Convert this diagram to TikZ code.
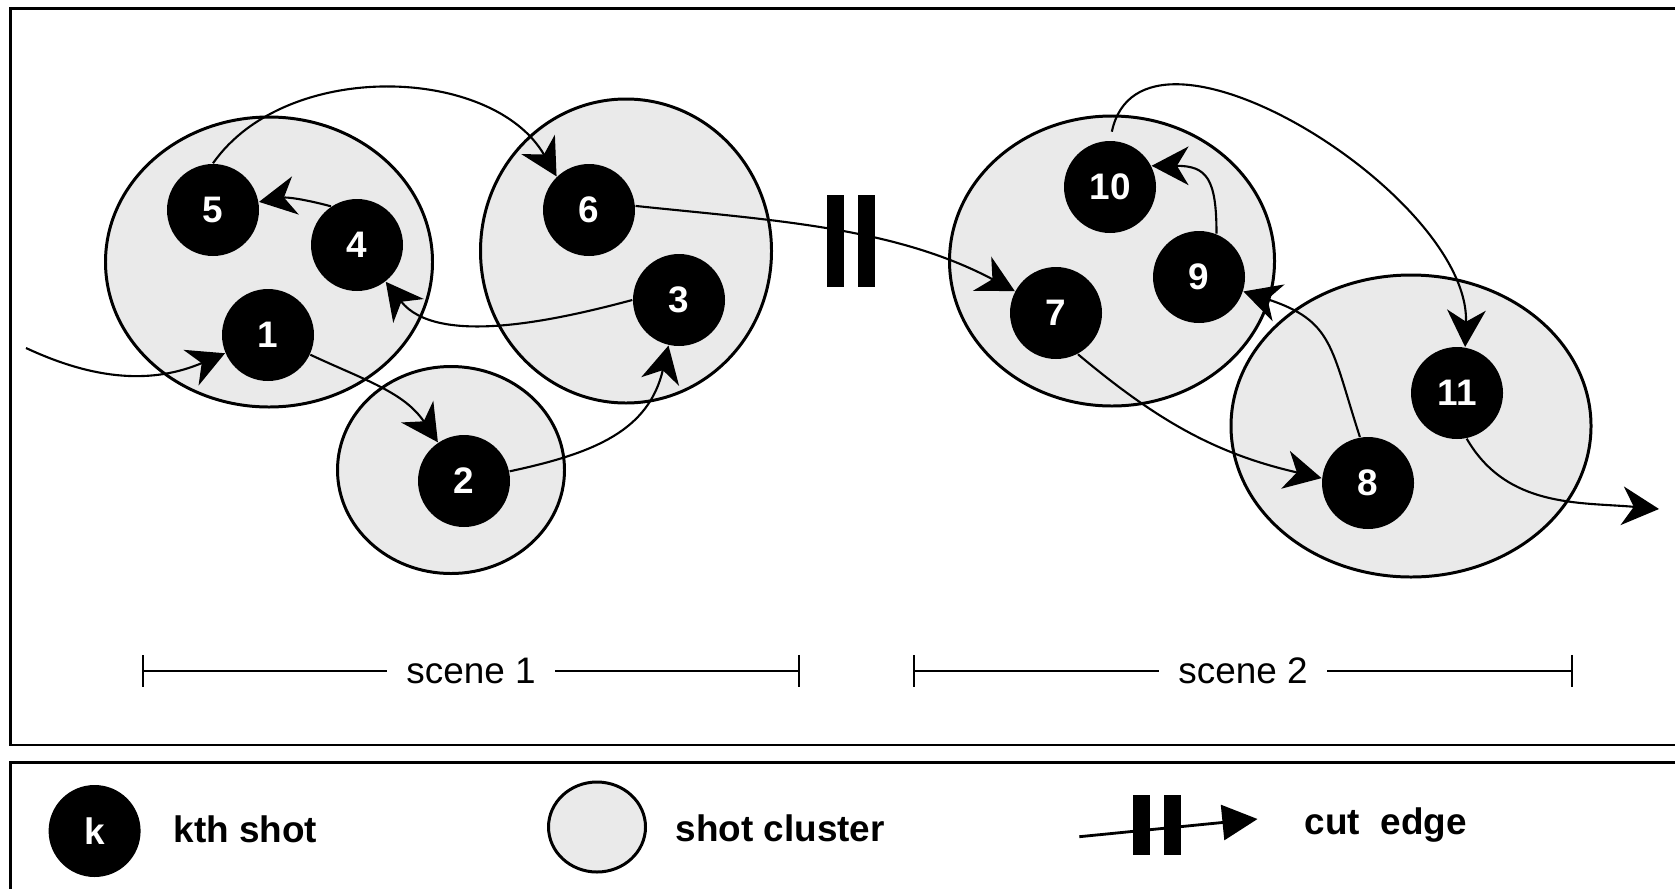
\documentclass[tikz,border=0pt]{standalone}
\usepackage{fontspec}
\setmainfont{Liberation Sans}
\usepackage{tikz}
\usetikzlibrary{arrows.meta}
\usetikzlibrary{shapes.geometric}
\usepackage{xcolor}
\definecolor{clustergray}{RGB}{234,234,234}

\begin{document}
\begin{tikzpicture}[
  shot/.style={circle, fill=black, text=white, font=\fontsize{10.5}{12}\selectfont\bfseries, minimum size=0.92cm, inner sep=0pt},
  cluster/.style={ellipse, draw, fill=clustergray, line width=0.85pt, inner sep=0pt},
  edge/.style={line width=0.6pt, -{Stealth[length=10.5pt,width=11pt,inset=3.3pt]}},
  cutbar/.style={fill=black, minimum width=0.176cm, minimum height=0.92cm, inner sep=0pt},
  frame/.style={line width=0.8pt},
  span/.style={line width=0.6pt, {Bar[width=9pt]}-{Bar[width=9pt]}},
  lbl/.style={font=\fontsize{10.5}{12}\selectfont\bfseries, anchor=base west, inner sep=0pt}
]
  \useasboundingbox (0,0) rectangle (16.75,8.88);
  \draw[frame] (0.107,1.43) rectangle (17,8.795);
  \draw[frame] (0.107,-0.5) rectangle (17,1.253);

  % shot clusters
  \node[cluster, minimum width=3.27cm, minimum height=2.9cm]  (c1) at (2.69,6.26) {};
  \node[cluster, minimum width=2.91cm, minimum height=3.04cm] (c2) at (6.26,6.37) {};
  \node[cluster, minimum width=2.27cm, minimum height=2.07cm] (c3) at (4.51,4.18) {};
  \node[cluster, minimum width=3.25cm, minimum height=2.9cm]  (c4) at (11.12,6.27) {};
  \node[cluster, minimum width=3.6cm, minimum height=3.02cm]  (c5) at (14.11,4.62) {};

  % shots
  \node[shot] (n1) at (2.68,5.53) {1};
  \node[shot] (n2) at (4.64,4.07) {2};
  \node[shot] (n3) at (6.79,5.88) {3};
  \node[shot] (n4) at (3.57,6.43) {4};
  \node[shot] (n5) at (2.13,6.78) {5};
  \node[shot] (n6) at (5.89,6.78) {6};
  \node[shot] (n7) at (10.56,5.75) {7};
  \node[shot] (n8) at (13.68,4.05) {8};
  \node[shot] (n9) at (11.99,6.11) {9};
  \node[shot] (n10) at (11.10,7.01) {10};
  \node[shot] (n11) at (14.57,4.95) {11};

  % transitions between shots
  \coordinate (in0) at (0.26,5.40);
  \coordinate (out11) at (16.59,3.79);
  \draw[edge] (in0) to[out=-25, in=203] (n1);
  \draw[edge] (n1) to[out=-25, in=124] (n2);
  \draw[edge] (n2) to[out=12, in=257, looseness=1.1] (n3);
  \draw[edge] (n3.west) to[out=195, in=-52, looseness=0.85] (n4);
  \draw[edge] (n4.124) to[out=165, in=10] (n5);
  \draw[edge] (n5.north) to[out=55, in=120, looseness=0.95] (n6.134);
  \draw[edge] (n6.5) to[out=-6, in=152, looseness=0.9] (n7);
  \draw[edge] (n7.-62) to[out=-40, in=167] (n8.174);
  \draw[edge] (n8.100) to[out=108, in=-18, looseness=1.3] (n9);
  \draw[edge] (n9.68) to[out=90, in=0, looseness=1.5] (n10.27);
  \draw[edge, shorten <=2.5pt] (n10.north) to[out=78, in=88, looseness=0.95] (n11.80);
  \draw[edge] (n11.-78) to[out=-60, in=175] (out11);

  % cut between the two scenes
  \node[cutbar] (cut1) at (8.355,6.472) {};
  \node[cutbar] (cut2) at (8.663,6.472) {};

  % scene extents
  \coordinate (s1a) at (1.42,2.173);
  \coordinate (s1b) at (8.00,2.173);
  \coordinate (s2a) at (9.13,2.173);
  \coordinate (s2b) at (15.73,2.173);
  \draw[span] (s1a) -- (s1b) node[midway, fill=white, inner xsep=5.4pt, font=\fontsize{10.5}{12}\selectfont] (sc1) {scene 1};
  \draw[span] (s2a) -- (s2b) node[midway, fill=white, inner xsep=5.4pt, font=\fontsize{10.5}{12}\selectfont] (sc2) {scene 2};

  % legend
  \node[shot] (key) at (0.946,0.57) {k};
  \node[lbl] (keytxt) at (1.73,0.453) {kth shot};
  \node[cluster, minimum width=0.97cm, minimum height=0.9cm] (keyc) at (5.97,0.61) {};
  \node[lbl] (keyctxt) at (6.75,0.47) {shot cluster};
  \coordinate (cuta) at (10.793,0.513);
  \coordinate (cutb) at (12.575,0.69);
  \draw[line width=0.8pt, -{Triangle[length=10pt,width=10pt]}] (cuta) -- (cutb);
  \node[cutbar, minimum width=0.172cm, minimum height=0.6cm] (keycut1) at (11.416,0.63) {};
  \node[cutbar, minimum width=0.172cm, minimum height=0.6cm] (keycut2) at (11.723,0.63) {};
  \node[lbl] (keycuttxt) at (13.04,0.54) {cut~ edge};
\end{tikzpicture}
\end{document}
